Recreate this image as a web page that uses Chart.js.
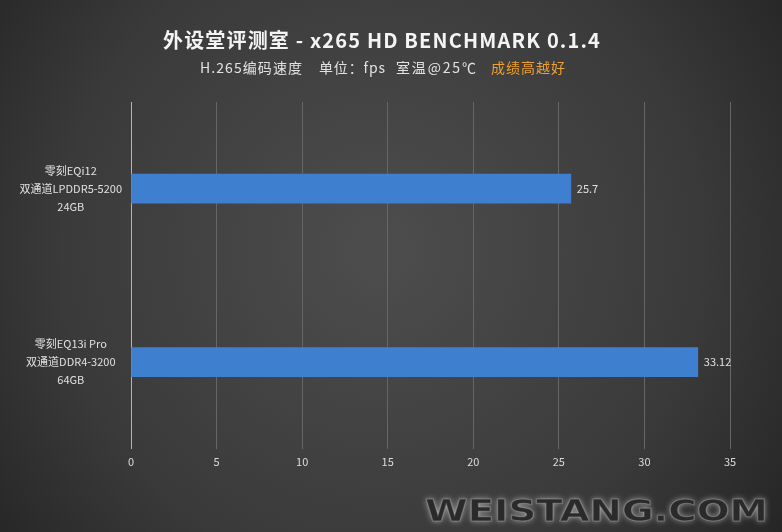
<!DOCTYPE html>
<html>
<head>
<meta charset="utf-8">
<script src="https://cdn.jsdelivr.net/npm/chart.js@4"></script>
<style>
    html, body { margin: 0; padding: 0; background: #333; }
    #wrap { width: 782px; height: 532px; }
</style>
</head>
<body>
<div id="wrap"><canvas id="benchChart" width="782" height="532"></canvas></div>
<script>
const titleText = '外设堂评测室 - x265 HD BENCHMARK 0.1.4';
const subtitleParts = ['H.265编码速度', '单位：fps', '室温@25℃'];
const subtitleNote = '成绩高越好';
const categories = [
    ['零刻EQi12', '双通道LPDDR5-5200', '24GB'],
    ['零刻EQ13i Pro', '双通道DDR4-3200', '64GB']
];
const fpsValues = [25.7, 33.12];
const xMax = 35;
const xStep = 5;

const cjkFont = '"Noto Sans CJK SC", "Noto Sans", sans-serif';

// draws text starting at x0 and spreads letters so it ends at x1
function fitText(ctx, text, x0, x1, y) {
    ctx.letterSpacing = '0px';
    const w = ctx.measureText(text).width;
    const sp = Math.max(0, (x1 - x0 - w) / Math.max(1, text.length - 1));
    ctx.letterSpacing = sp.toFixed(2) + 'px';
    ctx.fillText(text, x0, y);
    ctx.letterSpacing = '0px';
}

// background + header + watermark
const decorPlugin = {
    id: 'decor',
    beforeDraw(chart) {
        const { ctx, width, height } = chart;
        ctx.save();
        const g = ctx.createRadialGradient(380, 250, 20, 380, 250, 520);
        g.addColorStop(0, '#4c4c4c');
        g.addColorStop(0.6, '#3a3a3a');
        g.addColorStop(1, '#222222');
        ctx.fillStyle = g;
        ctx.fillRect(0, 0, width, height);
        ctx.restore();
    },
    afterDraw(chart) {
        const { ctx } = chart;
        ctx.save();
        ctx.textBaseline = 'middle';
        ctx.textAlign = 'left';

        ctx.font = 'bold 20px ' + cjkFont;
        ctx.fillStyle = '#f4f4f4';
        fitText(ctx, titleText, 163, 600, 40);

        ctx.font = '14px ' + cjkFont;
        ctx.fillStyle = '#e2e2e2';
        const spans = [[200, 302], [319, 385], [396, 476]];
        subtitleParts.forEach((t, i) => fitText(ctx, t, spans[i][0], spans[i][1], 68));
        ctx.fillStyle = '#f0a030';
        fitText(ctx, subtitleNote, 491, 565, 68);

        // watermark
        ctx.font = 'bold 30px "DejaVu Sans", sans-serif';
        const wm = 'WEISTANG.COM';
        const ww = ctx.measureText(wm).width;
        ctx.translate(425, 513);
        ctx.scale(343 / ww, 1);
        ctx.shadowColor = 'rgba(255,255,255,0.55)';
        ctx.shadowBlur = 6;
        ctx.fillStyle = '#2a2a2a';
        ctx.fillText(wm, 0, 0);
        ctx.shadowBlur = 0;
        ctx.strokeStyle = 'rgba(200,200,200,0.35)';
        ctx.lineWidth = 1;
        ctx.strokeText(wm, 0, 0);
        ctx.restore();
    }
};

// value labels at the end of each bar
const valueLabels = {
    id: 'valueLabels',
    afterDatasetsDraw(chart) {
        const { ctx } = chart;
        const meta = chart.getDatasetMeta(0);
        ctx.save();
        ctx.font = '11px ' + cjkFont;
        ctx.fillStyle = '#e0e0e0';
        ctx.textBaseline = 'middle';
        ctx.textAlign = 'left';
        meta.data.forEach((bar, i) => {
            ctx.fillText(String(fpsValues[i]), bar.x + 6, bar.y);
        });
        ctx.restore();
    }
};

const ctx = document.getElementById('benchChart').getContext('2d');
new Chart(ctx, {
    type: 'bar',
    data: {
        labels: categories,
        datasets: [{
            data: fpsValues,
            backgroundColor: function (c) {
                const bar = c.chart.getDatasetMeta(0).data[c.dataIndex];
                if (!bar || bar.y === undefined) return '#3f7fd0';
                const h = bar.height || 29;
                const g = c.chart.ctx.createLinearGradient(0, bar.y - h / 2, 0, bar.y + h / 2);
                g.addColorStop(0, '#4a8ee0');
                g.addColorStop(1, '#2f68b4');
                return g;
            },
            borderWidth: 0,
            barThickness: 29
        }]
    },
    options: {
        indexAxis: 'y',
        responsive: false,
        animation: false,
        layout: { padding: { top: 102, right: 52, bottom: 58, left: 0 } },
        plugins: {
            legend: { display: false },
            tooltip: { enabled: false }
        },
        scales: {
            x: {
                min: 0,
                max: xMax,
                ticks: {
                    stepSize: xStep,
                    color: '#dcdcdc',
                    font: { size: 11, family: cjkFont },
                    padding: 6
                },
                grid: { color: '#666666', drawTicks: false },
                border: { display: false }
            },
            y: {
                afterFit(scale) { scale.width = 131; },
                ticks: {
                    color: '#e0e0e0',
                    font: { size: 11, family: cjkFont, lineHeight: 1.65 },
                    crossAlign: 'center',
                    padding: 9
                },
                grid: { display: false, drawTicks: false },
                border: { display: true, color: '#b4b4b4', width: 1 }
            }
        }
    },
    plugins: [decorPlugin, valueLabels]
});
</script>
</body>
</html>
